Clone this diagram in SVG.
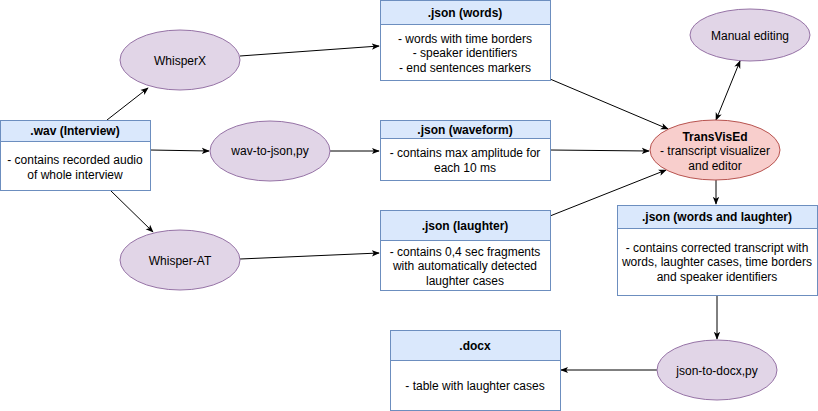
<svg xmlns="http://www.w3.org/2000/svg" width="818" height="411" viewBox="0 0 818 411">
<style>
text{font-family:"Liberation Sans",Arial,sans-serif;font-size:12px;fill:#000;text-anchor:middle}
.b{font-weight:bold}
.hd{fill:#dae8fc;stroke:#6c8ebf;stroke-width:1}
.bd{fill:#fff;stroke:#6c8ebf;stroke-width:1}
.el{fill:#e1d5e7;stroke:#9673a6;stroke-width:1}
.red{fill:#f8cecc;stroke:#b85450;stroke-width:1}
.c{fill:none;stroke:#000;stroke-width:1;marker-end:url(#a)}
</style>
<defs>
<marker id="a" viewBox="0 0 10 10" refX="9" refY="5" markerWidth="8" markerHeight="8" orient="auto-start-reverse" markerUnits="userSpaceOnUse"><path d="M0,1 L10,5 L0,9 L2.5,5 Z" fill="#000"/></marker>
</defs>
<g id="connectors">
<path class="c" d="M107,120 L148,88"/>
<path class="c" d="M150,150 L209,151"/>
<path class="c" d="M110,190 L153,232"/>
<path class="c" d="M240,56 L379,46"/>
<path class="c" d="M330,151 L379,151"/>
<path class="c" d="M240,259 L379,253"/>
<path class="c" d="M550,79 L668,129"/>
<path class="c" d="M550,150 L649,151"/>
<path class="c" d="M550,216 L666,170"/>
<path class="c" d="M716,120 L740,61" marker-start="url(#a)"/>
<path class="c" d="M716,180 L716,204"/>
<path class="c" d="M717,295 L717,339"/>
<path class="c" d="M657,370 L561,370"/>
</g>
<g id="wav"><rect class="bd" x="0.5" y="120.5" width="150" height="70"/><rect class="hd" x="0.5" y="120.5" width="150" height="21"/><text class="b" x="75" y="135">.wav (Interview)</text><text x="75" y="164">- contains recorded audio</text><text x="75" y="179">of whole interview</text></g>
<g id="whisperx"><ellipse class="el" cx="180" cy="60" rx="60" ry="30"/><text x="180" y="65">WhisperX</text></g>
<g id="wavtojson"><ellipse class="el" cx="270" cy="151" rx="60" ry="30"/><text x="270" y="155">wav-to-json,py</text></g>
<g id="whisperat"><ellipse class="el" cx="180" cy="260" rx="60" ry="30"/><text x="180" y="265">Whisper-AT</text></g>
<g id="jwords"><rect class="bd" x="380.5" y="0.5" width="170" height="80"/><rect class="hd" x="380.5" y="0.5" width="170" height="24"/><text class="b" x="465" y="17">.json (words)</text><text x="465" y="43">- words with time borders</text><text x="465" y="57">- speaker identifiers</text><text x="465" y="72">- end sentences markers</text></g>
<g id="jwave"><rect class="bd" x="380.5" y="120.5" width="170" height="60"/><rect class="hd" x="380.5" y="120.5" width="170" height="18"/><text class="b" x="465" y="134">.json (waveform)</text><text x="465" y="157">- contains max amplitude for</text><text x="465" y="172">each 10 ms</text></g>
<g id="jlaugh"><rect class="bd" x="380.5" y="210.5" width="170" height="80"/><rect class="hd" x="380.5" y="210.5" width="170" height="30"/><text class="b" x="465" y="230">.json (laughter)</text><text x="465" y="256">- contains 0,4 sec fragments</text><text x="465" y="270">with automatically detected</text><text x="465" y="285">laughter cases</text></g>
<g id="manual"><ellipse class="el" cx="750" cy="35" rx="60" ry="26"/><text x="750" y="40">Manual editing</text></g>
<g id="transvised"><ellipse class="red" cx="715" cy="150" rx="65" ry="30"/><text class="b" x="715" y="141">TransVisEd</text><text x="715" y="155">- transcript visualizer</text><text x="715" y="170">and editor</text></g>
<g id="jwl"><rect class="bd" x="617.5" y="205.5" width="200" height="90"/><rect class="hd" x="617.5" y="205.5" width="200" height="23"/><text class="b" x="717" y="221">.json (words and laughter)</text><text x="717" y="252">- contains corrected transcript with</text><text x="717" y="266">words, laughter cases, time borders</text><text x="717" y="281">and speaker identifiers</text></g>
<g id="docx"><rect class="bd" x="390.5" y="330.5" width="170" height="80"/><rect class="hd" x="390.5" y="330.5" width="170" height="30"/><text class="b" x="475" y="350">.docx</text><text x="475" y="390">- table with laughter cases</text></g>
<g id="jsontodocx"><ellipse class="el" cx="717" cy="370" rx="60" ry="30"/><text x="717" y="375">json-to-docx,py</text></g>
</svg>
